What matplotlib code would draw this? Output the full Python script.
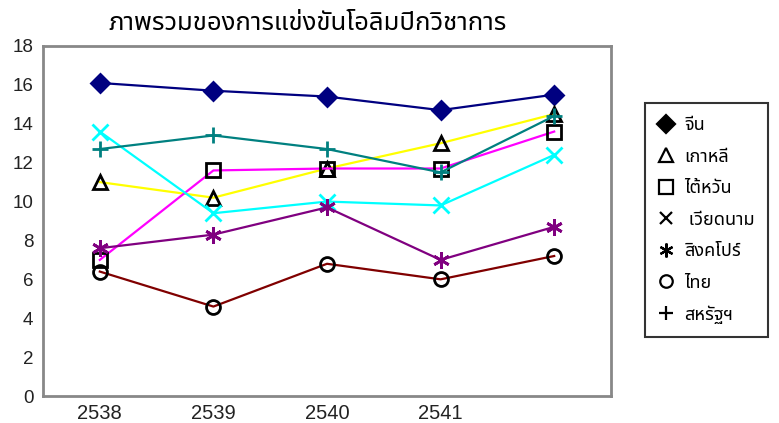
import matplotlib
matplotlib.use("Agg")
import matplotlib.pyplot as plt
from matplotlib.lines import Line2D
from matplotlib.ticker import MultipleLocator

THAI = ["Noto Sans Thai", "DejaVu Sans"]
NUM = ["Liberation Sans", "Noto Sans Thai", "DejaVu Sans"]

title = "ภาพรวมของการแข่งขันโอลิมปิกวิชาการ"
years = ["2538", "2539", "2540", "2541", ""]

china = [16.1, 15.7, 15.4, 14.7, 15.5]
korea = [11.0, 10.2, 11.7, 13.0, 14.5]
taiwan = [7.0, 11.6, 11.7, 11.7, 13.6]
vietnam = [13.6, 9.4, 10.0, 9.8, 12.4]
singapore = [7.6, 8.3, 9.7, 7.0, 8.7]
thailand = [6.4, 4.6, 6.8, 6.0, 7.2]
usa = [12.7, 13.4, 12.7, 11.5, 14.4]

names = ["จีน", "เกาหลี", "ไต้หวัน", " เวียดนาม", "สิงคโปร์", "ไทย", "สหรัฐฯ"]

ASTERISK = (6, 2, 0)

# series: values, line colour, marker, marker face, marker edge, size
series = [
    (china, "#000080", "D", "#000080", "#000080", 9),
    (korea, "#FFFF00", "^", "none", "black", 10),
    (taiwan, "#FF00FF", "s", "none", "black", 10),
    (vietnam, "#00FFFF", "x", "#00FFFF", "#00FFFF", 11),
    (singapore, "#800080", ASTERISK, "#800080", "#800080", 12),
    (thailand, "#800000", "o", "none", "black", 10),
    (usa, "#008080", "+", "#008080", "#008080", 12),
]

fig = plt.figure(figsize=(7.79, 4.23), dpi=100)
ax = fig.add_axes([43 / 779, 1 - 396 / 423, (611 - 43) / 779, (396 - 46) / 423])

x = list(range(len(years)))
for vals, col, mk, fc, ec, ms in series:
    ax.plot(x, vals, color=col, lw=1.6, marker=mk, markersize=ms,
            markerfacecolor=fc, markeredgecolor=ec, markeredgewidth=2,
            zorder=3)

ax.set_xlim(-0.5, 4.5)
ax.set_ylim(0, 18)
ax.yaxis.set_major_locator(MultipleLocator(2))
ax.set_yticks(range(2, 17, 2), minor=True)
ax.yaxis.grid(True, which="minor", color="black", lw=1.6)
ax.set_axisbelow(True)
ax.set_xticks(x)
ax.set_xticklabels(years)
ax.tick_params(axis="both", which="both", length=0)
ax.tick_params(axis="y", pad=7)
ax.tick_params(axis="x", pad=6)
for lab in ax.get_yticklabels():
    lab.set_fontfamily(NUM)
    lab.set_fontsize(13.5)
    lab.set_color("#222222")
for lab in ax.get_xticklabels():
    lab.set_fontfamily(NUM)
    lab.set_fontsize(14.5)
    lab.set_color("#222222")
for sp in ax.spines.values():
    sp.set_color("#888888")
    sp.set_linewidth(2)
    sp.set_zorder(4)

fig.text(308 / 779, 1 - 23 / 423, title, ha="center", va="center",
         fontsize=18.5, family=THAI, color="black")

legend_markers = [
    dict(marker="D", markerfacecolor="black", markeredgecolor="black", markersize=9),
    dict(marker="^", markerfacecolor="none", markeredgecolor="black", markersize=10),
    dict(marker="s", markerfacecolor="none", markeredgecolor="black", markersize=10),
    dict(marker="x", markerfacecolor="black", markeredgecolor="black", markersize=8),
    dict(marker=ASTERISK, markerfacecolor="black", markeredgecolor="black", markersize=10),
    dict(marker="o", markerfacecolor="none", markeredgecolor="black", markersize=9),
    dict(marker="+", markerfacecolor="black", markeredgecolor="black", markersize=10),
]
handles = [Line2D([], [], linestyle="none", markeredgewidth=1.6, **m) for m in legend_markers]
leg = fig.legend(handles, names, loc="upper left",
                 bbox_to_anchor=(645 / 779, 1 - 103 / 423), borderaxespad=0,
                 prop={"family": THAI, "size": 13}, frameon=True, fancybox=False,
                 edgecolor="black", handlelength=0.9, handletextpad=0.55,
                 labelspacing=0.75, borderpad=0.72)
leg.get_frame().set_linewidth(1.5)

fig.savefig("out.png", dpi=100)
